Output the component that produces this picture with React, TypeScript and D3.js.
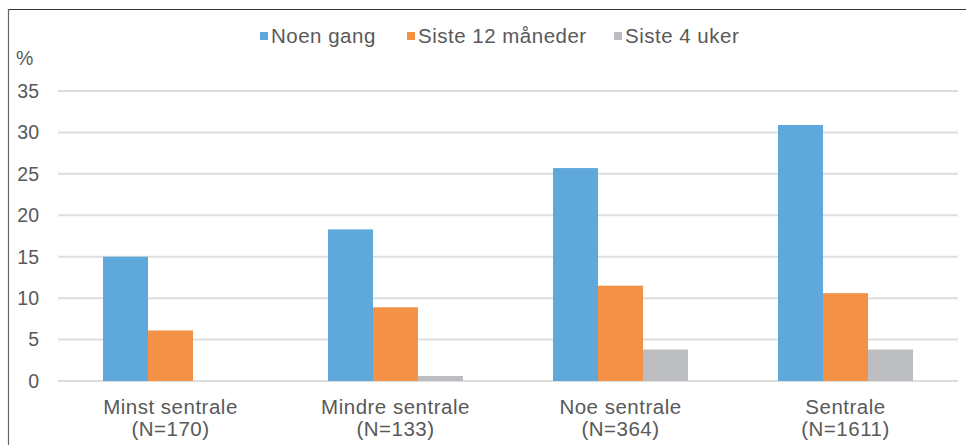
import React from "react";
import * as d3 from "d3";

const categories = ["Minst sentrale", "Mindre sentrale", "Noe sentrale", "Sentrale"];
const categoryN = ["(N=170)", "(N=133)", "(N=364)", "(N=1611)"];
const seriesNames = ["Noen gang", "Siste 12 måneder", "Siste 4 uker"];
const noenGang = [15.0, 18.3, 25.7, 30.9];
const siste12 = [6.1, 8.9, 11.5, 10.6];
const siste4 = [0, 0.6, 3.8, 3.8];
const yTicks = [0, 5, 10, 15, 20, 25, 30, 35];
const colors = ["#5fa8db", "#f39147", "#bcbdc0"];

const W = 966;
const H = 445;
const plotLeft = 58;
const plotRight = 958;
const plotTop = 91;
const plotBottom = 381;
const textColor = "#595959";
const font = "'Liberation Sans', Arial, sans-serif";

export default function App() {
  const series = [noenGang, siste12, siste4];
  const x = d3.scaleBand<string>().domain(categories).range([plotLeft, plotRight]).paddingInner(0.4).paddingOuter(0.2);
  const x1 = d3.scaleBand<number>().domain([0, 1, 2]).range([0, x.bandwidth()]);
  const y = d3.scaleLinear().domain([0, 35]).range([plotBottom, plotTop]);

  const legendX = [260, 407, 614];

  return (
    <svg width={W} height={H} style={{ position: "absolute", left: 0, top: 0, background: "#fff" }} fontFamily={font}>
      <rect x={0} y={0} width={W} height={H} fill="#fff" />
      {/* border */}
      <line x1={8} x2={W} y1={9.5} y2={9.5} stroke="#333" strokeWidth={1.2} />
      <line x1={8.5} x2={8.5} y1={9} y2={H} stroke="#666" strokeWidth={1.2} />
      {/* gridlines */}
      {yTicks.map((t) => (
        <g key={t}>
          <line x1={plotLeft} x2={plotRight} y1={y(t)} y2={y(t)} stroke="#dedede" strokeWidth={2} />
          <text x={39} y={y(t)} dy="0.35em" textAnchor="end" fontSize={19.5} fill={textColor}>
            {t}
          </text>
        </g>
      ))}
      <text x={16} y={58} dy="0.35em" fontSize={19.5} fill={textColor}>%</text>
      {/* bars */}
      {categories.map((c, ci) => (
        <g key={c} transform={`translate(${x(c)},0)`}>
          {series.map((s, si) =>
            s[ci] > 0 ? (
              <rect
                key={si}
                x={x1(si)}
                y={y(s[ci])}
                width={x1.bandwidth()}
                height={plotBottom - y(s[ci])}
                fill={colors[si]}
              />
            ) : null
          )}
          <text x={x.bandwidth() / 2} y={414} textAnchor="middle" fontSize={20.5} letterSpacing={0.5} fill={textColor}>
            {c}
          </text>
          <text x={x.bandwidth() / 2} y={436} textAnchor="middle" fontSize={20.5} letterSpacing={0.5} fill={textColor}>
            {categoryN[ci]}
          </text>
        </g>
      ))}
      {/* legend */}
      {seriesNames.map((n, i) => (
        <g key={n}>
          <rect x={legendX[i]} y={32} width={8} height={8} fill={colors[i]} />
          <text x={legendX[i] + 11} y={36} dy="0.35em" fontSize={20.5} letterSpacing={0.5} fill={textColor}>
            {n}
          </text>
        </g>
      ))}
    </svg>
  );
}
